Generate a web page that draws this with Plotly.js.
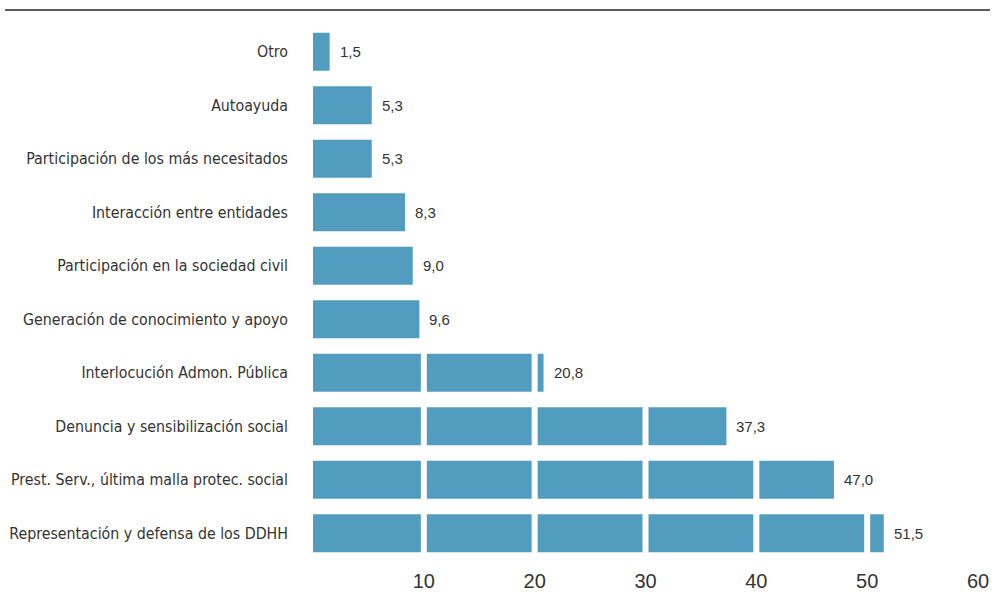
<!DOCTYPE html>
<html>
<head>
<meta charset="utf-8">
<script src="https://cdn.plot.ly/plotly-3.0.1.min.js"></script>
<style>html,body{margin:0;padding:0;background:#fff;}#chart{width:995px;height:610px;}</style>
</head>
<body>
<div id="chart"></div>
<script>
var categories = [
  "Otro",
  "Autoayuda",
  "Participación de los más necesitados",
  "Interacción entre entidades",
  "Participación en la sociedad civil",
  "Generación de conocimiento y apoyo",
  "Interlocución Admon. Pública",
  "Denuncia y sensibilización social",
  "Prest. Serv., última malla protec. social",
  "Representación y defensa de los DDHH"
];
var values = [1.5, 5.3, 5.3, 8.3, 9.0, 9.6, 20.8, 37.3, 47.0, 51.5];
var tickVals = [10, 20, 30, 40, 50, 60];
var gridVals = [10, 20, 30, 40, 50];

var trace = {
  type: 'bar',
  orientation: 'h',
  x: values,
  y: categories,
  marker: {color: '#529dbf', line: {width: 0}},
  width: 0.71,
  hoverinfo: 'skip'
};

var annotations = values.map(function(v, i){
  return {x: v, y: categories[i], xref: 'x', yref: 'y', xanchor: 'left', yanchor: 'middle',
          xshift: 8, showarrow: false, text: v.toFixed(1).replace('.', ','),
          font: {family: 'Liberation Sans, Arial, sans-serif', size: 15, color: '#333'}};
});

var shapes = gridVals.map(function(g){
  return {type: 'line', xref: 'x', yref: 'paper', x0: g, x1: g, y0: 0, y1: 1,
          layer: 'above', line: {color: '#ffffff', width: 6}};
});
shapes.push({type: 'line', xref: 'paper', yref: 'paper', x0: -0.463, x1: 1.018, y0: 1.028, y1: 1.028,
             line: {color: '#5a5a5a', width: 2}});

var layout = {
  width: 995, height: 610,
  margin: {l: 313, r: 17, t: 25, b: 50},
  paper_bgcolor: '#fff', plot_bgcolor: '#fff',
  showlegend: false,
  annotations: annotations,
  xaxis: {range: [0, 60], tickvals: tickVals, showgrid: false, zeroline: false, showline: false,
          ticks: '', ticklabelstandoff: 7,
          tickfont: {family: 'Liberation Sans, Arial, sans-serif', size: 20, color: '#333'}},
  yaxis: {autorange: 'reversed', showgrid: false, zeroline: false, showline: false, ticks: '',
          ticklabelstandoff: 24,
          tickfont: {family: 'DejaVu Sans Condensed, sans-serif', size: 15.8, color: '#333'}},
  shapes: shapes
};

Plotly.newPlot('chart', [trace], layout, {displayModeBar: false, staticPlot: true});
</script>
</body>
</html>
